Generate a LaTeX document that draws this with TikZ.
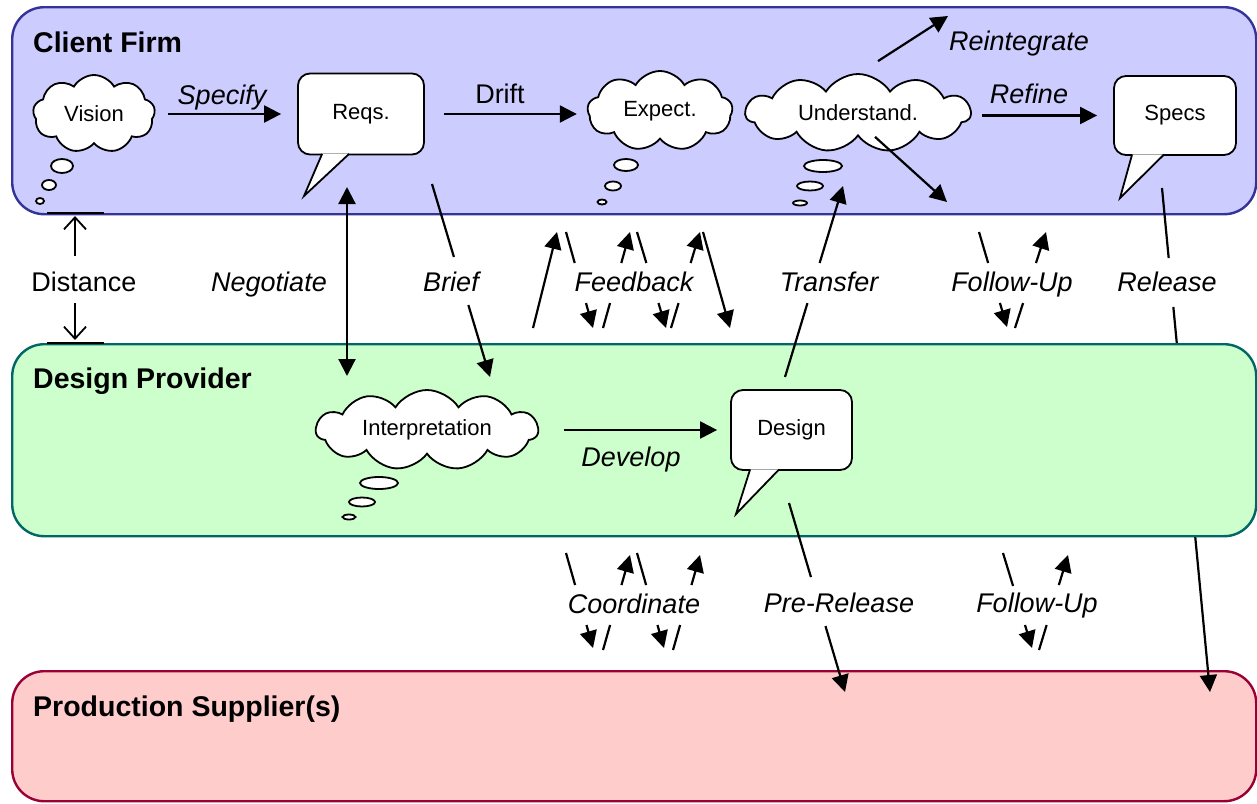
\documentclass[tikz,border=0pt]{standalone}
\usepackage{fontspec}
\setmainfont{Liberation Sans}
\usetikzlibrary{arrows.meta,shapes.symbols,calc}

\definecolor{clientfill}{HTML}{CCCCFF}
\definecolor{clientline}{HTML}{333399}
\definecolor{provfill}{HTML}{CCFFCC}
\definecolor{provline}{HTML}{006666}
\definecolor{suppfill}{HTML}{FFCCCC}
\definecolor{suppline}{HTML}{990033}

\newcommand{\mytitlefont}{\fontsize{28.5}{32}\selectfont\bfseries}
\newcommand{\mynodefont}{\fontsize{22}{24}\selectfont}
\newcommand{\mylabelfont}{\fontsize{27}{30}\selectfont}

% a connector interrupted where its label sits: plain part, gap, arrow part
\newcommand{\brokenlink}[4]{%
  \draw[stroke] (#1) -- ($(#1)!#3!(#2)$);
  \draw[flow] ($(#1)!#4!(#2)$) -- (#2);}

\tikzset{
  lane/.style={rounded corners=32pt, line width=2.4pt, anchor=north west, inner sep=0pt},
  lanetitle/.style={anchor=base west, inner sep=0pt, font=\mytitlefont},
  thought/.style={cloud, cloud puffs=9, cloud puff arc=120, cloud ignores aspect,
    draw, fill=white, line width=1.8pt, inner sep=0pt, font=\mynodefont},
  bubble/.style={draw, fill=white, line width=1.8pt},
  speech/.style={draw, fill=white, rounded corners=12pt, line width=1.8pt,
    inner sep=0pt, font=\mynodefont},
  tail/.style={draw, fill=white, line width=1.8pt, line join=miter},
  flow/.style={line width=2.2pt, -{Triangle[length=17pt,width=17pt]}},
  twoway/.style={line width=2.2pt, {Triangle[length=17pt,width=17pt]}-{Triangle[length=17pt,width=17pt]}},
  stroke/.style={line width=2.2pt},
  gauge/.style={line width=1.8pt, -{Straight Barb[length=12pt,width=22pt]}},
  gaugebar/.style={line width=2.8pt},
  verb/.style={anchor=base, inner sep=0pt, font=\mylabelfont\itshape},
  plainverb/.style={anchor=base, inner sep=0pt, font=\mylabelfont},
}

\begin{document}
\begin{tikzpicture}[x=1pt, y=-1pt]
\useasboundingbox (0,0) rectangle (1257,803);

% ---- lanes ----
\node[lane, fill=clientfill, draw=clientline, minimum width=1244pt, minimum height=207pt] (client) at (11,6) {};
\node[lane, fill=suppfill, draw=suppline, minimum width=1244pt, minimum height=130pt] (supplier) at (11,670) {};

% release runs behind the provider lane
\coordinate (relA) at (1162,188);
\coordinate (relB) at (1210,692);
\brokenlink{relA}{relB}{0.139}{0.236}

\node[lane, fill=provfill, draw=provline, minimum width=1244pt, minimum height=192pt] (provider) at (11,343) {};

\node[lanetitle] (clientT) at (33,52) {Client Firm};
\node[lanetitle] (providerT) at (33,388) {Design Provider};
\node[lanetitle] (supplierT) at (33,716) {Production Supplier(s)};

% ---- client firm ----
\node[thought, minimum width=122pt, minimum height=78pt] (vision) at (94,114) {Vision};
\draw[bubble] (62,166) ellipse [x radius=11, y radius=7];
\draw[bubble] (49,185) ellipse [x radius=7, y radius=5];
\draw[bubble] (40,201) ellipse [x radius=4, y radius=3];

\node[speech, minimum width=126pt, minimum height=81pt] (reqs) at (361,114) {Reqs.};
\coordinate (reqsTip) at (304,196);
\draw[tail] ($(reqs.south west)+(25,-1.5)$) -- (reqsTip) -- ($(reqs.south west)+(52,-1.5)$);

\node[thought, minimum width=145pt, minimum height=80pt] (expect) at (660,111) {Expect.};
\draw[bubble] (626,165) ellipse [x radius=12, y radius=6];
\draw[bubble] (613,186) ellipse [x radius=8, y radius=4.5];
\draw[bubble] (602,202) ellipse [x radius=4.5, y radius=2.5];

\node[thought, cloud puffs=11, cloud puff arc=115, minimum width=225pt, minimum height=78pt] (understand) at (858,113) {Understand.};
\draw[bubble] (823,166) ellipse [x radius=19, y radius=6];
\draw[bubble] (810,186) ellipse [x radius=13, y radius=4.5];
\draw[bubble] (800,203) ellipse [x radius=7, y radius=2.5];

\node[speech, minimum width=122pt, minimum height=79pt] (specs) at (1175,115.5) {Specs};
\coordinate (specsTip) at (1120,198);
\draw[tail] ($(specs.south west)+(19,-1.5)$) -- (specsTip) -- ($(specs.south west)+(51,-1.5)$);

\draw[flow] ([xshift=13pt]vision.east) -- ([xshift=-16pt]vision.east -| reqs.west);
\node[verb] (specifyL) at (222,104) {Specify};

\draw[flow] ([xshift=19pt]reqs.east) -- ([xshift=-10pt]reqs.east -| expect.west);
\node[plainverb] (driftL) at (500,103) {Drift};

\draw[flow] ([xshift=10pt]understand.east |- specs.west) -- ([xshift=-16pt]specs.west);
\node[verb] (refineL) at (1029,103) {Refine};

\coordinate (reintB) at (948,16);
\draw[flow] ([shift={(20pt,12pt)}]understand.north) -- (reintB);
\node[verb] (reintL) at (1019,50) {Reintegrate};

\coordinate (followB) at (947,202);
\draw[flow] ([xshift=17pt]understand.south) -- (followB);

% ---- design provider ----
\node[thought, cloud puffs=11, cloud puff arc=115, minimum width=222pt, minimum height=80pt] (interp) at (427,430) {Interpretation};
\draw[bubble] (379,483) ellipse [x radius=19, y radius=6];
\draw[bubble] (362,502) ellipse [x radius=13, y radius=4.5];
\draw[bubble] (349,517) ellipse [x radius=6.5, y radius=2.5];

\node[speech, minimum width=121pt, minimum height=80pt] (design) at (791.5,430) {Design};
\coordinate (designTip) at (736,514);
\draw[tail] ($(design.south west)+(20,-1.5)$) -- (designTip) -- ($(design.south west)+(49,-1.5)$);

\draw[flow] ([xshift=25pt]interp.east) -- ([xshift=-13pt]interp.east -| design.west);
\node[verb] (developL) at (631,466) {Develop};

% ---- distance gauge ----
\draw[gaugebar] (47,213) -- (104,213);
\draw[gaugebar] (47,343) -- (104,343);
\coordinate (gTop) at (75,216);
\coordinate (gBot) at (75,340);
\draw[gauge] (75,256) -- (gTop);
\draw[gauge] (75,303) -- (gBot);
\node[plainverb] (distanceL) at (84,291) {Distance};

% ---- between client and provider ----
\coordinate (negA) at (347,187);
\coordinate (negB) at (347,376);
\draw[twoway] (negA) -- (negB);
\node[verb] (negotiateL) at (269,291) {Negotiate};

\coordinate (briefA) at (432,184);
\coordinate (briefB) at (490,377);
\brokenlink{briefA}{briefB}{0.378}{0.627}
\node[verb] (briefL) at (451,291) {Brief};

\coordinate (fbUpA) at (533,328);
\coordinate (fbUpB) at (557,232);
\draw[flow] (fbUpA) -- (fbUpB);
\coordinate (fb1a) at (566,232); \coordinate (fb1b) at (593,328);
\brokenlink{fb1a}{fb1b}{0.323}{0.74}
\coordinate (fb2a) at (603,328); \coordinate (fb2b) at (630,232);
\brokenlink{fb2a}{fb2b}{0.26}{0.677}
\coordinate (fb3a) at (637,232); \coordinate (fb3b) at (666,328);
\brokenlink{fb3a}{fb3b}{0.323}{0.74}
\coordinate (fb4a) at (671,328); \coordinate (fb4b) at (700,232);
\brokenlink{fb4a}{fb4b}{0.26}{0.677}
\coordinate (fbDnA) at (703,232);
\coordinate (fbDnB) at (730,328);
\draw[flow] (fbDnA) -- (fbDnB);
\node[verb] (feedbackL) at (634,291) {Feedback};

\coordinate (trA) at (785,377);
\coordinate (trB) at (843,186);
\brokenlink{trA}{trB}{0.387}{0.597}
\node[verb] (transferL) at (829,291) {Transfer};

\coordinate (fu1a) at (979,232); \coordinate (fu1b) at (1007,327);
\brokenlink{fu1a}{fu1b}{0.326}{0.747}
\coordinate (fu2a) at (1015,328); \coordinate (fu2b) at (1046,232);
\brokenlink{fu2a}{fu2b}{0.26}{0.677}
\node[verb] (followL) at (1012,291) {Follow-Up};

\node[verb] (releaseL) at (1167,291) {Release};

% ---- between provider and supplier ----
\coordinate (co1a) at (566,553); \coordinate (co1b) at (593,648);
\brokenlink{co1a}{co1b}{0.337}{0.758}
\coordinate (co2a) at (603,650); \coordinate (co2b) at (630,555);
\brokenlink{co2a}{co2b}{0.263}{0.684}
\coordinate (co3a) at (637,553); \coordinate (co3b) at (664,648);
\brokenlink{co3a}{co3b}{0.337}{0.758}
\coordinate (co4a) at (673,650); \coordinate (co4b) at (700,555);
\brokenlink{co4a}{co4b}{0.263}{0.684}
\node[verb] (coordL) at (634,613) {Coordinate};

\coordinate (preA) at (789,503);
\coordinate (preB) at (845,692);
\brokenlink{preA}{preB}{0.392}{0.651}
\node[verb] (preL) at (839,612) {Pre-Release};

\coordinate (fu3a) at (1003,553); \coordinate (fu3b) at (1032,648);
\brokenlink{fu3a}{fu3b}{0.347}{0.758}
\coordinate (fu4a) at (1039,650); \coordinate (fu4b) at (1068,555);
\brokenlink{fu4a}{fu4b}{0.263}{0.684}
\node[verb] (follow2L) at (1037,612) {Follow-Up};

\end{tikzpicture}
\end{document}
